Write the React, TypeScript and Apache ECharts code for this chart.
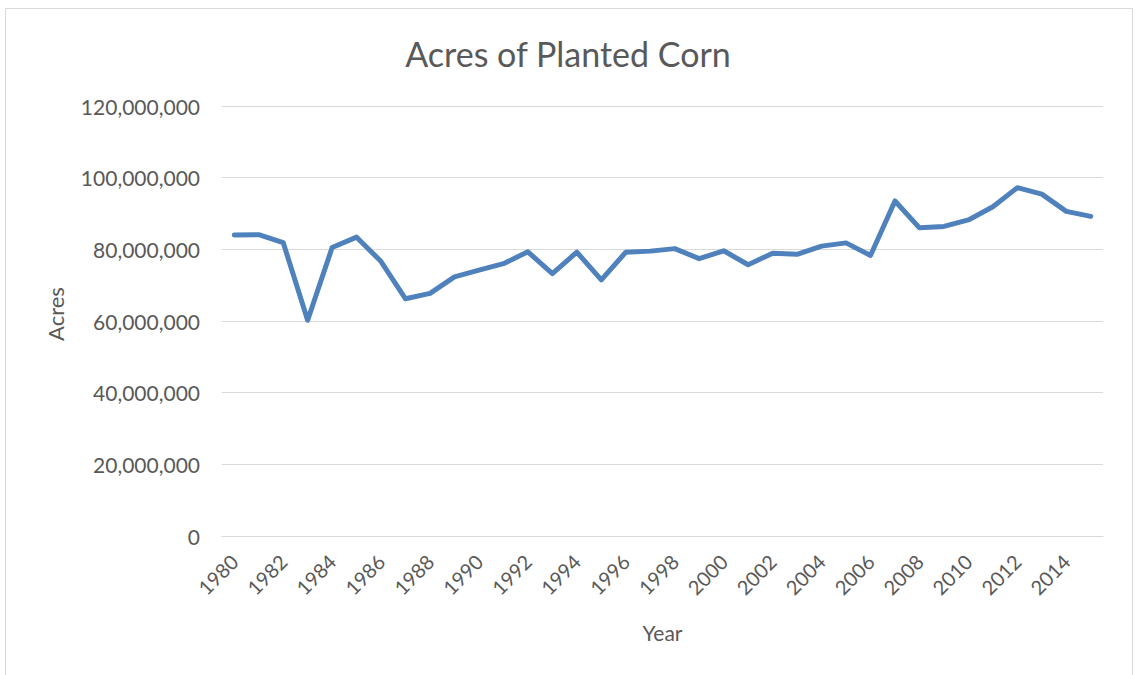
import React, { useEffect, useRef } from "react";
import * as echarts from "echarts";

const years: string[] = [
  "1980","1981","1982","1983","1984","1985","1986","1987","1988","1989",
  "1990","1991","1992","1993","1994","1995","1996","1997","1998","1999",
  "2000","2001","2002","2003","2004","2005","2006","2007","2008","2009",
  "2010","2011","2012","2013","2014","2015",
];

const acres: number[] = [
  84000000, 84100000, 81900000, 60200000, 80500000, 83400000, 76600000, 66200000, 67700000, 72300000,
  74200000, 76000000, 79300000, 73200000, 79200000, 71500000, 79200000, 79500000, 80200000, 77400000,
  79600000, 75700000, 78900000, 78600000, 80900000, 81800000, 78300000, 93500000, 86000000, 86400000,
  88200000, 91900000, 97200000, 95400000, 90600000, 89200000,
];

const yMin = 0;
const yMax = 120000000;
const yStep = 20000000;

const FONT = "Lato, 'Open Sans', sans-serif";

export default function App() {
  const ref = useRef<HTMLDivElement>(null);
  useEffect(() => {
    document.body.style.margin = "0";
    if (!ref.current) return;
    const chart = echarts.init(ref.current, null, { renderer: "svg" });
    chart.setOption({
      animation: false,
      backgroundColor: "#ffffff",
      textStyle: { fontFamily: FONT },
      title: {
        text: "Acres of Planted Corn",
        left: "center",
        top: 31,
        textStyle: { fontFamily: FONT, fontSize: 34, fontWeight: "normal", color: "#595959" },
      },
      graphic: [
        {
          type: "rect",
          shape: { x: 5.5, y: 8.5, width: 1127, height: 680 },
          style: { fill: "none", stroke: "#d9d9d9", lineWidth: 1 },
          silent: true,
        },
      ],
      grid: { left: 222, right: 33, top: 106, bottom: 139 },
      xAxis: {
        type: "category",
        data: years,
        boundaryGap: true,
        name: "Year",
        nameLocation: "middle",
        nameGap: 86,
        nameTextStyle: { fontFamily: FONT, fontSize: 21, color: "#595959" },
        axisLine: { show: true, lineStyle: { color: "#d9d9d9", width: 1 } },
        axisTick: { show: false },
        axisLabel: {
          interval: 1,
          rotate: 45,
          fontFamily: FONT,
          fontSize: 20,
          color: "#595959",
          margin: 22,
        },
        splitLine: { show: false },
      },
      yAxis: {
        type: "value",
        min: yMin,
        max: yMax,
        interval: yStep,
        name: "Acres",
        nameLocation: "middle",
        nameGap: 156,
        nameRotate: 90,
        nameTextStyle: { fontFamily: FONT, fontSize: 22, color: "#595959", padding: [0, 0, 0, 14] },
        axisLine: { show: false },
        axisTick: { show: false },
        axisLabel: {
          fontFamily: FONT,
          fontSize: 21,
          color: "#595959",
          margin: 22,
          formatter: (v: number) => v.toLocaleString("en-US"),
        },
        splitLine: { show: true, lineStyle: { color: "#d9d9d9", width: 1 } },
      },
      series: [
        {
          type: "line",
          data: acres,
          showSymbol: false,
          symbol: "none",
          lineStyle: { color: "#4f81bd", width: 5, cap: "round", join: "round" },
          itemStyle: { color: "#4f81bd" },
        },
      ],
    });
    return () => chart.dispose();
  }, []);
  return <div ref={ref} style={{ width: 1136, height: 675 }} />;
}
